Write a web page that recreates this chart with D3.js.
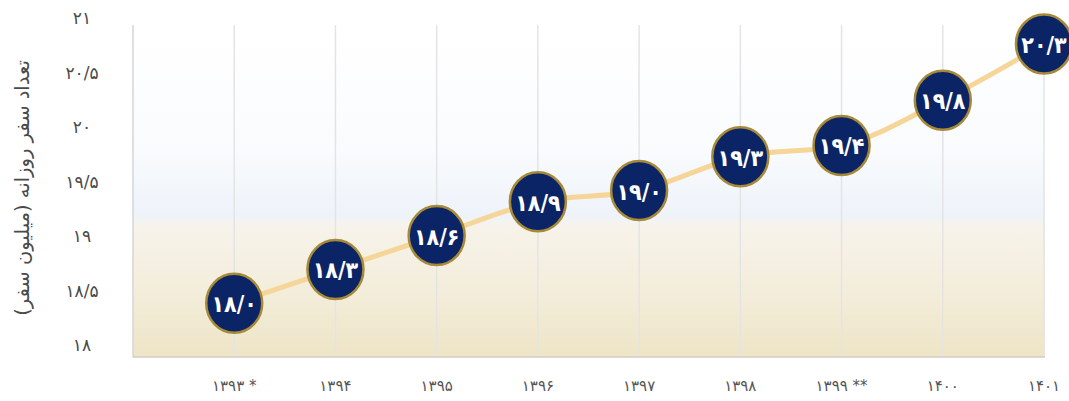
<!DOCTYPE html>
<html>
<head>
<meta charset="utf-8">
<script src="https://cdn.jsdelivr.net/npm/d3@7"></script>
<style>
  body { margin: 0; background: #fff; }
  svg text { font-family: 'DejaVu Sans', sans-serif; }
</style>
</head>
<body>
<div class="canvas"></div>
<script>
'use strict';

var YEARS = ['۱۳۹۳ *', '۱۳۹۴', '۱۳۹۵', '۱۳۹۶', '۱۳۹۷', '۱۳۹۸', '۱۳۹۹ **', '۱۴۰۰', '۱۴۰۱'];
var TRIPS = [18.0, 18.3, 18.6, 18.9, 19.0, 19.3, 19.4, 19.8, 20.3];
var TRIP_LABELS = ['۱۸/۰', '۱۸/۳', '۱۸/۶', '۱۸/۹', '۱۹/۰', '۱۹/۳', '۱۹/۴', '۱۹/۸', '۲۰/۳'];
var Y_TICKS = [18, 18.5, 19, 19.5, 20, 20.5, 21];
var Y_TICK_LABELS = ['۱۸', '۱۸/۵', '۱۹', '۱۹/۵', '۲۰', '۲۰/۵', '۲۱'];
var Y_TITLE = 'تعداد سفر روزانه (میلیون سفر)';

var WIDTH = 1069, HEIGHT = 401;
var PLOT_LEFT = 133, PLOT_RIGHT = 1045, PLOT_TOP = 25, PLOT_BOTTOM = 357;

var svg = d3.select('.canvas').append('svg')
  .attr('width', WIDTH)
  .attr('height', HEIGHT);

// x: one empty slot on the left, last year sits on the right edge
var x = d3.scaleLinear()
  .domain([-1, YEARS.length - 1])
  .range([PLOT_LEFT, PLOT_RIGHT - 1]);

// axis labels scale
var y = d3.scaleLinear()
  .domain([18, 21])
  .range([345, 18]);

// the bubbles in the original sit a bit above their axis value
var yPoint = y.copy().domain([17.63, 20.53]);

// background gradient
var grad = svg.append('defs')
  .append('linearGradient')
  .attr('id', 'bgGrad')
  .attr('x1', 0).attr('y1', 0)
  .attr('x2', 0).attr('y2', 1);
[[0, '#ffffff'], [0.38, '#f9fbfd'], [0.57, '#eef3fa'], [0.61, '#f7f3ea'], [0.8, '#f3eddb'], [1, '#eee5c6']]
  .forEach(function(s) {
    grad.append('stop').attr('offset', s[0]).attr('stop-color', s[1]);
  });

svg.append('rect')
  .attr('x', PLOT_LEFT)
  .attr('y', PLOT_TOP)
  .attr('width', PLOT_RIGHT - PLOT_LEFT)
  .attr('height', PLOT_BOTTOM - PLOT_TOP)
  .style('fill', 'url(#bgGrad)');

// vertical grid lines
svg.selectAll('line.grid')
  .data(d3.range(-1, YEARS.length))
  .enter()
  .append('line')
  .attr('x1', function(d) { return x(d); })
  .attr('x2', function(d) { return x(d); })
  .attr('y1', PLOT_TOP)
  .attr('y2', PLOT_BOTTOM)
  .style('stroke', function(d) { return d < 0 ? '#d6d6d6' : '#e4e4e4'; })
  .style('stroke-width', 1.5)
  .classed('grid', true);

// bottom border
svg.append('line')
  .attr('x1', PLOT_LEFT)
  .attr('x2', PLOT_RIGHT)
  .attr('y1', PLOT_BOTTOM)
  .attr('y2', PLOT_BOTTOM)
  .style('stroke', '#d0cdc6')
  .style('stroke-width', 1.5);

// y tick labels
svg.selectAll('text.y-tick')
  .data(Y_TICKS)
  .enter()
  .append('text')
  .attr('x', 82)
  .attr('y', function(d) { return y(d); })
  .attr('text-anchor', 'middle')
  .attr('dominant-baseline', 'central')
  .style('font-size', '17px')
  .style('fill', '#4a4a4a')
  .attr('direction', 'ltr')
  .text(function(d, i) { return Y_TICK_LABELS[i]; })
  .classed('y-tick', true);

// y title
svg.append('text')
  .attr('transform', 'translate(22,' + 188 + ') rotate(-90)')
  .attr('text-anchor', 'middle')
  .attr('dominant-baseline', 'central')
  .style('font-size', '19.5px')
  .style('fill', '#4a4a4a')
  .text(Y_TITLE);

// x labels
svg.selectAll('text.x-tick')
  .data(YEARS)
  .enter()
  .append('text')
  .attr('x', function(d, i) { return x(i); })
  .attr('y', 386)
  .attr('text-anchor', 'middle')
  .attr('dominant-baseline', 'central')
  .attr('direction', 'ltr')
  .style('font-size', '15px')
  .style('fill', '#555')
  .text(function(d) { return d; })
  .classed('x-tick', true);

// line
var line = d3.line()
  .x(function(d, i) { return x(i); })
  .y(function(d) { return yPoint(d); })
  .curve(d3.curveMonotoneX);

svg.append('path')
  .datum(TRIPS)
  .attr('d', line)
  .style('fill', 'none')
  .style('stroke', '#f6d598')
  .style('stroke-width', 5)
  .style('stroke-linecap', 'round');

// bubbles
var bubbles = svg.selectAll('g.bubble')
  .data(TRIPS)
  .enter()
  .append('g')
  .attr('transform', function(d, i) { return 'translate(' + x(i) + ',' + yPoint(d) + ')'; })
  .classed('bubble', true);

bubbles.append('ellipse')
  .attr('rx', 28)
  .attr('ry', 29.5)
  .style('fill', '#0b2466')
  .style('stroke', '#a68a3a')
  .style('stroke-width', 2.5);

bubbles.append('text')
  .attr('text-anchor', 'middle')
  .attr('dominant-baseline', 'central')
  .attr('direction', 'ltr')
  .attr('y', 1)
  .style('font-family', "'DejaVu Sans Condensed', 'DejaVu Sans', sans-serif")
  .style('font-size', '23px')
  .style('font-weight', 'bold')
  .style('letter-spacing', '-1px')
  .style('fill', '#ffffff')
  .text(function(d, i) { return TRIP_LABELS[i]; });
</script>
</body>
</html>
